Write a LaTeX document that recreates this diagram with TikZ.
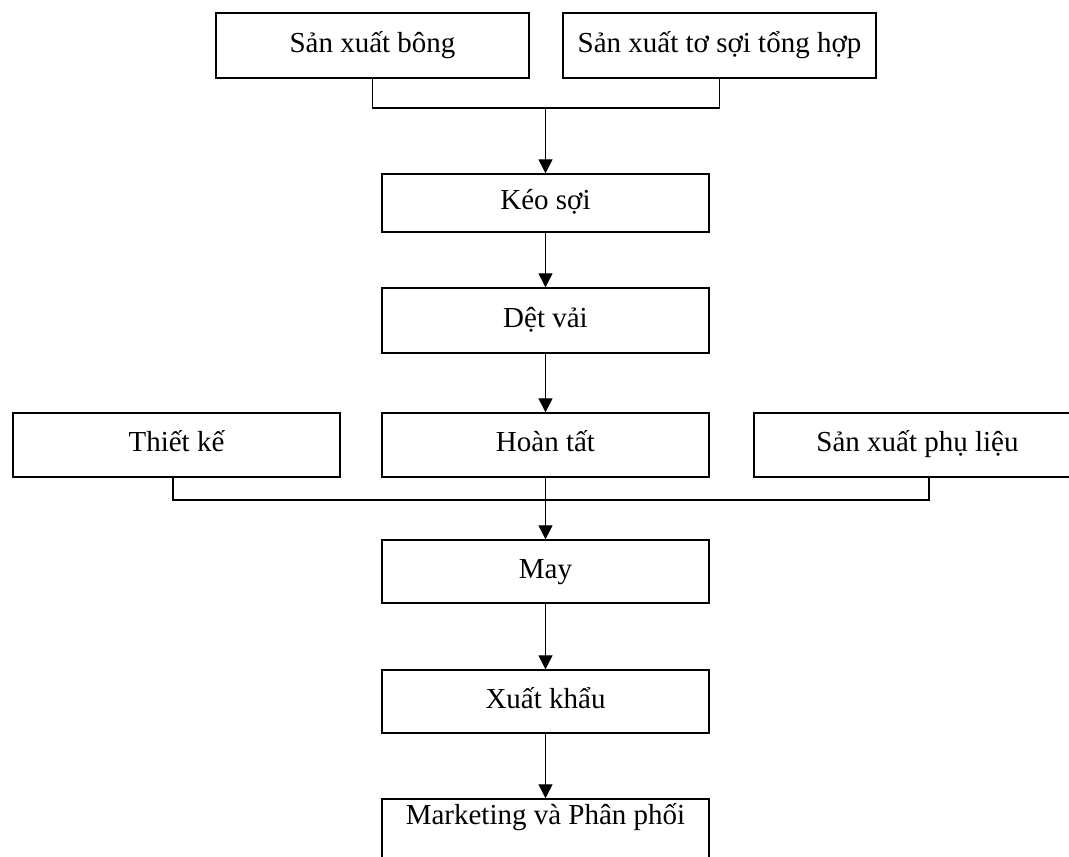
\documentclass[tikz,border=0pt]{standalone}
\usepackage{fontspec}
\setmainfont{Liberation Serif}
\usetikzlibrary{arrows.meta}
\tikzset{
  box/.style={draw, line width=1.4pt, inner sep=0pt, minimum width=327pt,
    text height=19pt, text depth=6pt, font=\fontsize{29}{34}\selectfont},
  conn/.style={line width=1.2pt},
  arr/.style={line width=1.2pt, -{Triangle[width=14pt,length=14pt]}}
}
\begin{document}
\begin{tikzpicture}[x=1pt,y=-1pt]
\useasboundingbox (0,0) rectangle (1069,857);
\fill[white] (0,0) rectangle (1069,857);
\clip (0,0) rectangle (1069,857);
\node[box, minimum width=313pt, minimum height=65pt] (bong) at (372.5,45.5) {Sản xuất bông};
\node[box, minimum width=313pt, minimum height=65pt] (toi) at (719.5,45.5) {Sản xuất tơ sợi tổng hợp};
\node[box, minimum height=58pt] (keo) at (545.5,203) {Kéo sợi};
\node[box, minimum height=65pt] (det) at (545.5,320.5) {Dệt vải};
\node[box, minimum height=64pt] (hoan) at (545.5,445) {Hoàn tất};
\node[box, minimum height=64pt] (tk) at (176.5,445) {Thiết kế};
\node[box, minimum height=64pt] (pl) at (917.5,445) {Sản xuất phụ liệu};
\node[box, minimum height=63pt] (may) at (545.5,571.5) {May};
\node[box, minimum height=63pt] (xk) at (545.5,701.5) {Xuất khẩu};
\node[box, minimum height=65pt, text height=6pt, text depth=20pt] (mk) at (545.5,831.5) {Marketing và Phân phối};
\coordinate (j1) at (545.5,108);
\coordinate (j2) at (545.5,500);
\draw[conn] (bong.south) |- (j1) -| (toi.south);
\draw[arr] (j1) -- (keo.north);
\draw[arr] (keo.south) -- (det.north);
\draw[arr] (det.south) -- (hoan.north);
\draw[conn] ([xshift=-3.5pt]tk.south) |- (j2) -| ([xshift=11.5pt]pl.south);
\draw[arr] (hoan.south) -- (may.north);
\draw[arr] (may.south) -- (xk.north);
\draw[arr] (xk.south) -- (mk.north);
\end{tikzpicture}
\end{document}
